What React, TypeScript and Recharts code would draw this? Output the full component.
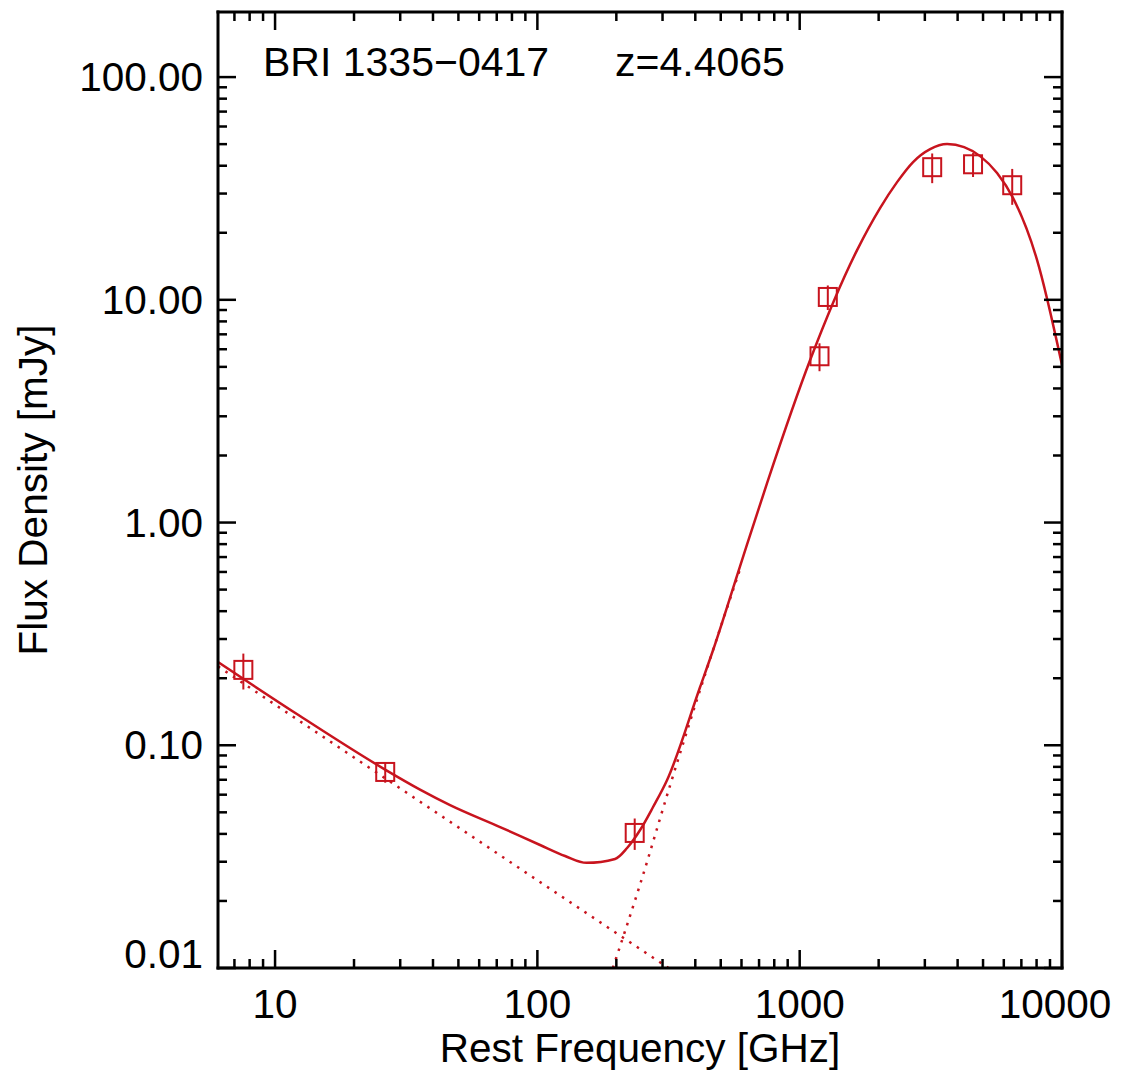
import React from 'react';
import { ComposedChart, Line, Scatter, XAxis, YAxis, ErrorBar } from 'recharts';

const RED = '#c8141e';
const FONT = '"Liberation Sans", Arial, Helvetica, sans-serif';
const FS = 40.5;

// Photometry: rest frequency [GHz], flux density [mJy], 1-sigma error [mJy]
const pointFreq = [7.57, 26.3, 235, 1190, 1280, 3200, 4580, 6460];
const pointFlux = [0.218, 0.0759, 0.0404, 5.58, 10.3, 39.4, 40.6, 32.7];
const pointErr = [0.04, 0.008, 0.0065, 0.8, 1.3, 6, 5, 6];

// Total model (solid)
const modelFreq = [6.06, 12.45, 26.27, 35.7, 46.47, 72.08, 102.4, 127.5, 154.0, 197.8, 219.8, 246.4, 276.1, 312.3, 417.2, 467.7, 592.7, 751, 1096, 1655, 2025, 2351, 2706, 3143, 3648, 4234, 4873, 5656, 6511, 8036, 10000];
const modelFlux = [0.2364, 0.1353, 0.0778, 0.06326, 0.0539, 0.04295, 0.03566, 0.03183, 0.02965, 0.03087, 0.03457, 0.04163, 0.05282, 0.06983, 0.1826, 0.2677, 0.6378, 1.504, 5.364, 16.72, 25.82, 33.76, 41.56, 47.49, 50.03, 48.5, 44.17, 37.07, 28.63, 15.08, 5.096];

// Synchrotron component (dotted)
const synchFreq = [6.06, 316];
const synchFlux = [0.226, 0.01];

// Dust component (dotted)
const dustFreq = [194, 246, 321, 417, 593];
const dustFlux = [0.01, 0.0236, 0.0664, 0.177, 0.62];

// Axes
const xTicks = [7, 8, 9, 10, 20, 30, 40, 50, 60, 70, 80, 90, 100, 200, 300, 400, 500, 600, 700, 800, 900, 1000, 2000, 3000, 4000, 5000, 6000, 7000, 8000, 9000, 10000];
const xMajor = [10, 100, 1000, 10000];
const xLabels = ['10', '100', '1000', '10000'];
const yTicks = [0.01, 0.02, 0.03, 0.04, 0.05, 0.06, 0.07, 0.08, 0.09, 0.1, 0.2, 0.3, 0.4, 0.5, 0.6, 0.7, 0.8, 0.9, 1, 2, 3, 4, 5, 6, 7, 8, 9, 10, 20, 30, 40, 50, 60, 70, 80, 90, 100];
const yMajor = [0.01, 0.1, 1, 10, 100];
const yLabels = ['0.01', '0.10', '1.00', '10.00', '100.00'];
const xDomain = [6.06, 10000];
const yDomain = [0.01, 196];

const pointData = pointFreq.map((f, i) => ({ f, s: pointFlux[i], err: pointErr[i] }));
const modelData = modelFreq.map((f, i) => ({ f, s: modelFlux[i] }));
const synchData = synchFreq.map((f, i) => ({ f, s: synchFlux[i] }));
const dustData = dustFreq.map((f, i) => ({ f, s: dustFlux[i] }));

// Layout of the plot frame
const W = 1122;
const H = 1073;
const LEFT = 218;
const TOP = 12;
const RIGHT = 1062;
const BOTTOM = 968;

const MAJ = 18;
const MIN = 9;
const TW = 2.5;

const majorIndex = (v: number, majors: number[]) => majors.findIndex((m) => Math.abs(m - v) / m < 1e-6);

function BottomTick(props: any) {
  const { x, payload } = props;
  const idx = majorIndex(payload.value, xMajor);
  const major = idx >= 0;
  return (
    <g>
      <line x1={x} y1={BOTTOM} x2={x} y2={BOTTOM - (major ? MAJ : MIN)} stroke="#000" strokeWidth={TW} />
      {major && (
        <text x={x + (payload.value === 10000 ? -7 : 0)} y={BOTTOM + 50} textAnchor="middle" fontSize={FS} fontFamily={FONT} fill="#000">
          {xLabels[idx]}
        </text>
      )}
    </g>
  );
}

function TopTick(props: any) {
  const { x, payload } = props;
  const major = majorIndex(payload.value, xMajor) >= 0;
  return <line x1={x} y1={TOP} x2={x} y2={TOP + (major ? MAJ : MIN)} stroke="#000" strokeWidth={TW} />;
}

function LeftTick(props: any) {
  const { y, payload } = props;
  const idx = majorIndex(payload.value, yMajor);
  const major = idx >= 0;
  const shift = payload.value === 0.01 ? -14 : 0;
  return (
    <g>
      <line x1={LEFT} y1={y} x2={LEFT + (major ? MAJ : MIN)} y2={y} stroke="#000" strokeWidth={TW} />
      {major && (
        <text x={LEFT - 15} y={y + 14 + shift} textAnchor="end" fontSize={FS} fontFamily={FONT} fill="#000">
          {yLabels[idx]}
        </text>
      )}
    </g>
  );
}

function RightTick(props: any) {
  const { y, payload } = props;
  const major = majorIndex(payload.value, yMajor) >= 0;
  return <line x1={RIGHT} y1={y} x2={RIGHT - (major ? MAJ : MIN)} y2={y} stroke="#000" strokeWidth={TW} />;
}

function SquareMarker(props: any) {
  const { cx, cy } = props;
  if (cx == null || cy == null) return null;
  return <rect x={cx - 9} y={cy - 9} width={18} height={18} fill="none" stroke={RED} strokeWidth={2} />;
}

const axisLineStyle = { stroke: '#000', strokeWidth: 3, strokeLinecap: 'square' as const };

export default function App() {
  return (
    <div style={{ position: 'absolute', left: 0, top: 0, width: W, height: H, background: '#fff' }}>
      <ComposedChart width={W} height={H} margin={{ top: TOP - 1, right: W - RIGHT - 1, bottom: 0, left: 0 }}>
        <XAxis
          xAxisId={0}
          dataKey="f"
          type="number"
          scale="log"
          domain={xDomain}
          allowDataOverflow
          ticks={xTicks}
          interval={0}
          tickSize={0}
          tickMargin={0}
          tickLine={false}
          axisLine={axisLineStyle}
          tick={<BottomTick />}
          height={H - BOTTOM}
          orientation="bottom"
          label={{
            content: () => (
              <text x={(LEFT + RIGHT) / 2} y={BOTTOM + 94} textAnchor="middle" fontSize={FS} fontFamily={FONT} fill="#000">
                Rest Frequency [GHz]
              </text>
            ),
          }}
        />
        <XAxis
          xAxisId="t"
          dataKey="f"
          type="number"
          scale="log"
          domain={xDomain}
          allowDataOverflow
          ticks={xTicks}
          interval={0}
          tickSize={0}
          tickMargin={0}
          tickLine={false}
          axisLine={axisLineStyle}
          tick={<TopTick />}
          height={1}
          orientation="top"
        />
        <YAxis
          yAxisId={0}
          dataKey="s"
          type="number"
          scale="log"
          domain={yDomain}
          allowDataOverflow
          ticks={yTicks}
          interval={0}
          tickSize={0}
          tickMargin={0}
          tickLine={false}
          axisLine={axisLineStyle}
          tick={<LeftTick />}
          width={LEFT}
          orientation="left"
          label={{
            content: () => {
              const cx = 47;
              const cy = (TOP + BOTTOM) / 2;
              return (
                <text x={cx} y={cy} transform={`rotate(-90, ${cx}, ${cy})`} textAnchor="middle" fontSize={FS} fontFamily={FONT} fill="#000">
                  Flux Density [mJy]
                </text>
              );
            },
          }}
        />
        <YAxis
          yAxisId="r"
          dataKey="s"
          type="number"
          scale="log"
          domain={yDomain}
          allowDataOverflow
          ticks={yTicks}
          interval={0}
          tickSize={0}
          tickMargin={0}
          tickLine={false}
          axisLine={axisLineStyle}
          tick={<RightTick />}
          width={1}
          orientation="right"
        />
        {/* invisible series bound to the mirrored top/right axes so they are drawn */}
        <Line
          xAxisId="t"
          yAxisId="r"
          data={modelData}
          dataKey="s"
          stroke="none"
          dot={false}
          activeDot={false}
          legendType="none"
          isAnimationActive={false}
        />
        <Line
          data={synchData}
          dataKey="s"
          type="linear"
          stroke={RED}
          strokeWidth={2.5}
          strokeDasharray="2.5 6.5"
          dot={false}
          activeDot={false}
          isAnimationActive={false}
        />
        <Line
          data={dustData}
          dataKey="s"
          type="monotone"
          stroke={RED}
          strokeWidth={2.5}
          strokeDasharray="2.5 6.5"
          dot={false}
          activeDot={false}
          isAnimationActive={false}
        />
        <Line
          data={modelData}
          dataKey="s"
          type="monotone"
          stroke={RED}
          strokeWidth={2.5}
          dot={false}
          activeDot={false}
          isAnimationActive={false}
        />
        <Scatter data={pointData} dataKey="s" shape={<SquareMarker />} isAnimationActive={false}>
          <ErrorBar dataKey="err" direction="y" width={0} stroke={RED} strokeWidth={2} />
        </Scatter>
      </ComposedChart>
      <svg width={W} height={100} style={{ position: 'absolute', left: 0, top: 0, pointerEvents: 'none' }}>
        <text x={263} y={76} fontSize={FS + 0.5} fontFamily={FONT} fill="#000">BRI 1335−0417</text>
        <text x={615} y={76} fontSize={FS + 0.5} fontFamily={FONT} fill="#000">z=4.4065</text>
      </svg>
    </div>
  );
}
